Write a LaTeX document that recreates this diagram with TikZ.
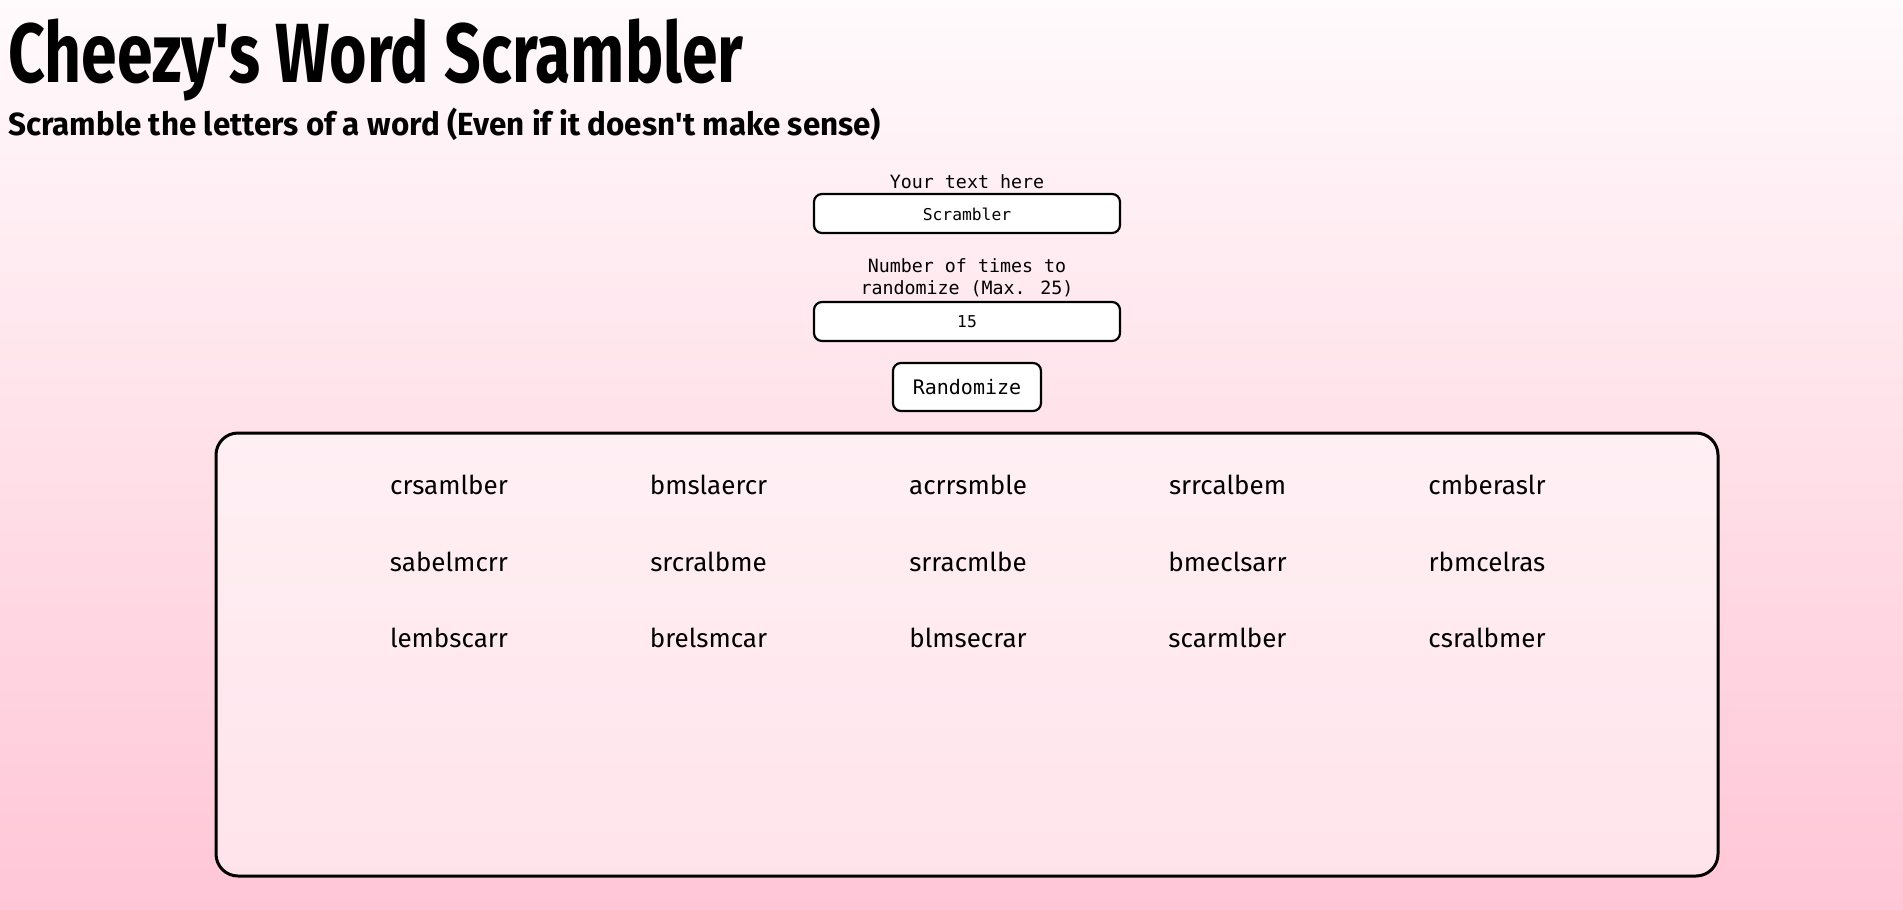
\documentclass[tikz,border=0pt]{standalone}
\usepackage{fontspec}
\usepackage{graphicx}
\newfontfamily\titlefont{Fira Sans}
\newfontfamily\wordfont{Fira Sans}
\newfontfamily\monofont{DejaVu Sans Mono}
\definecolor{bgtop}{HTML}{FFFAFC}
\definecolor{bgbot}{HTML}{FFC6D6}
\tikzset{
  field/.style={draw=black, line width=2.2pt, rounded corners=8pt, fill=white},
  lbl/.style={font=\monofont\fontsize{18.3}{20}\selectfont, inner sep=0pt},
  word/.style={font=\wordfont\fontsize{26}{30}\selectfont, inner sep=0pt, anchor=base},
}
\begin{document}
\begin{tikzpicture}[x=1pt,y=-1pt]
\shade[top color=bgtop, bottom color=bgbot] (0,0) rectangle (1903,910);
\useasboundingbox (0,0) rectangle (1903,910);
% title
\node[anchor=base west, inner sep=0pt] (title) at (8,82)
  {\titlefont\bfseries\fontsize{84}{90}\selectfont\scalebox{0.765}[1]{Cheezy's Word Scrambler}};
\node[anchor=base west, inner sep=0pt] (sub) at (8,135)
  {\titlefont\bfseries\fontsize{32}{36}\selectfont\scalebox{0.98}[1]{Scramble the letters of a word (Even if it doesn't make sense)}};
% inputs
\node[lbl, anchor=base] (l1) at (967,188) {Your text here};
\draw[field] (814,194) rectangle (1120,233);
\node[font=\monofont\fontsize{16.3}{18}\selectfont, inner sep=0pt] (in1) at (967,214) {Scrambler};
\node[lbl, anchor=base] (l2a) at (967,272) {Number of times to};
\node[lbl, anchor=base] (l2b) at (967,294) {randomize (Max. 25)};
\draw[field] (814,302) rectangle (1120,341);
\node[font=\monofont\fontsize{16.3}{18}\selectfont, inner sep=0pt] (in2) at (967,322) {15};
\draw[field] (893,363) rectangle (1041,411);
\node[font=\monofont\fontsize{20}{22}\selectfont, inner sep=0pt] (btn) at (967,387) {Randomize};
% output box
\draw[line width=3pt, rounded corners=22pt, fill=white, fill opacity=0.5] (216,433) rectangle (1718,876);
\foreach \w [count=\i from 0] in {crsamlber,bmslaercr,acrrsmble,srrcalbem,cmberaslr}
  \node[word] (r1c\i) at (449+259.5*\i,494) {\w};
\foreach \w [count=\i from 0] in {sabelmcrr,srcralbme,srracmlbe,bmeclsarr,rbmcelras}
  \node[word] (r2c\i) at (449+259.5*\i,571) {\w};
\foreach \w [count=\i from 0] in {lembscarr,brelsmcar,blmsecrar,scarmlber,csralbmer}
  \node[word] (r3c\i) at (449+259.5*\i,647) {\w};
\end{tikzpicture}
\end{document}
